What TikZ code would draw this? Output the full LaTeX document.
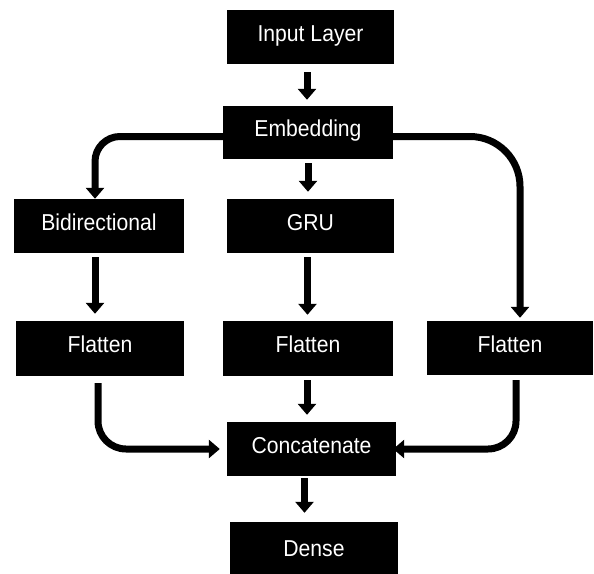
\documentclass[tikz,border=0pt]{standalone}
\usepackage{fontspec}
\setmainfont{Liberation Sans}[FakeStretch=0.92]
\usetikzlibrary{arrows.meta}
\begin{document}
\begin{tikzpicture}[x=1pt,y=-1pt,
  layer/.style={fill=black,text=white,inner sep=0pt,minimum height=54pt,
    text height=17pt,text depth=8.5pt,
    font=\fontsize{23}{27}\selectfont},
  conn/.style={line width=7pt,-{Triangle[width=18pt,length=11pt]}},
  bend/.style={conn,rounded corners=#1}]
\useasboundingbox (0,0) rectangle (594,573);
\node[layer,minimum width=167pt] (in)  at (310.5,37) {Input Layer};
\node[layer,minimum width=170pt,minimum height=53pt] (emb) at (308,132.5) {Embedding};
\node[layer,minimum width=170pt] (bi)  at (99,226) {Bidirectional};
\node[layer,minimum width=167pt] (gru) at (310.5,226) {GRU};
\node[layer,minimum width=168pt,minimum height=55pt] (fl)  at (100,348.5) {Flatten};
\node[layer,minimum width=170pt,minimum height=55pt] (fc)  at (308,348.5) {Flatten};
\node[layer,minimum width=166pt] (fr)  at (510,348) {Flatten};
\node[layer,minimum width=169pt] (cat) at (311.5,449) {Concatenate};
\node[layer,minimum width=168pt,minimum height=60pt] (den) at (314,552) {Dense};

\draw[conn,shorten <=8pt,shorten >=6pt] ([xshift=-3.5pt]in.south) -- ([xshift=-3.5pt]in.south |- emb.north);
\draw[conn,shorten <=4pt,shorten >=7pt] (emb.south) -- (emb.south |- gru.north);
\draw[conn,shorten <=4pt,shorten >=6pt] ([xshift=-3pt]gru.south) -- ([xshift=-3pt]gru.south |- fc.north);
\draw[conn,shorten <=4pt,shorten >=7pt] ([xshift=-4pt]bi.south) -- ([xshift=-4pt]bi.south |- fl.north);
\draw[conn,shorten <=4pt,shorten >=7pt] ([xshift=-1pt]fc.south) -- ([xshift=-1pt]fc.south |- cat.north);
\draw[conn,shorten <=2pt,shorten >=9pt] ([xshift=-7pt]cat.south) -- ([xshift=-7pt]cat.south |- den.north);

\draw[bend=25pt,shorten <=-3pt] ([yshift=-4pt]emb.west) -| ([xshift=-4pt]bi.north);
\draw[bend=50pt,shorten >=3pt] ([yshift=-4pt]emb.east) -| ([xshift=10pt]fr.north);
\draw[bend=28pt,shorten <=7pt,shorten >=7pt] ([xshift=-2pt]fl.south) |- (cat.west);
\draw[bend=28pt,shorten <=5pt,shorten >=-3pt] ([xshift=6pt]fr.south) |- (cat.east);
\end{tikzpicture}
\end{document}
